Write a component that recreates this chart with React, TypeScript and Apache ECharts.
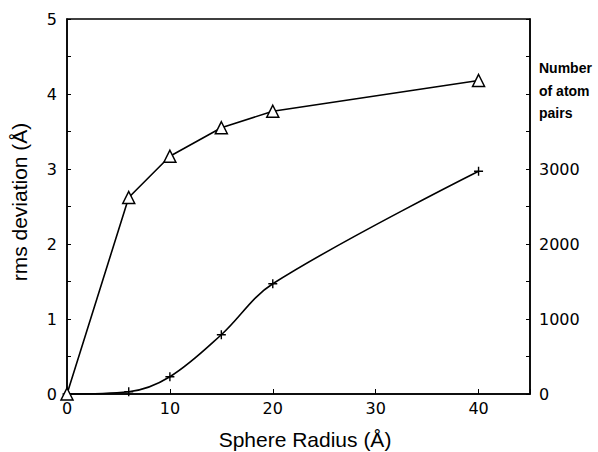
import React, { useEffect, useRef } from "react";
import * as echarts from "echarts";

const radius = [0, 6, 10, 15, 20, 40];
const rmsDeviation = [0, 2.62, 3.17, 3.55, 3.77, 4.18];
const atomPairs = [0, 30, 230, 790, 1470, 2970];
const leftTickLabels = [0, 1, 2, 3, 4, 5];
const rightTickLabels = [0, 1000, 2000, 3000];
const xTickLabels = [0, 10, 20, 30, 40];
const rightNote = ["Number", "of atom", "pairs"];

export default function App() {
  const ref = useRef<HTMLDivElement>(null);
  useEffect(() => {
    document.body.style.margin = "0";
    const chart = echarts.init(ref.current!, null, { renderer: "svg" });
    const numFont = { fontFamily: "DejaVu Sans", fontSize: 16, color: "#000" };
    chart.setOption({
      animation: false,
      backgroundColor: "#fff",
      grid: {
        left: 67,
        right: 68,
        top: 19,
        bottom: 58,
        show: true,
        borderColor: "#000",
        borderWidth: 1.5,
        backgroundColor: "transparent",
      },
      xAxis: {
        type: "value",
        min: 0,
        max: 45,
        interval: 10,
        axisLine: { show: true, lineStyle: { color: "#000", width: 1.5 } },
        axisTick: { show: true, inside: true, length: 5, lineStyle: { color: "#000" } },
        splitLine: { show: false },
        axisLabel: {
          ...numFont,
          margin: 6,
          formatter: (v: number) => (xTickLabels.includes(v) ? String(v) : ""),
        },
      },
      yAxis: [
        {
          type: "value",
          min: 0,
          max: 5,
          interval: 0.5,
          axisLine: { show: true, lineStyle: { color: "#000", width: 1.5 } },
          axisTick: { show: true, inside: true, length: 4, lineStyle: { color: "#000" } },
          splitLine: { show: false },
          axisLabel: {
            ...numFont,
            margin: 10,
            formatter: (v: number) => (leftTickLabels.includes(v) ? String(v) : ""),
          },
        },
        {
          type: "value",
          min: 0,
          max: 5000,
          interval: 500,
          position: "right",
          axisLine: { show: true, lineStyle: { color: "#000", width: 1.5 } },
          axisTick: { show: true, inside: true, length: 4, lineStyle: { color: "#000" } },
          splitLine: { show: false },
          axisLabel: {
            ...numFont,
            margin: 9,
            formatter: (v: number) => (rightTickLabels.includes(v) ? String(v) : ""),
          },
        },
      ],
      graphic: [
        {
          type: "text",
          x: 19,
          y: 202,
          rotation: Math.PI / 2,
          style: {
            text: "rms deviation (Å)",
            fontFamily: "Liberation Sans",
            fontSize: 21,
            fill: "#000",
            textAlign: "center",
            textVerticalAlign: "middle",
          },
        },
        {
          type: "text",
          x: 305,
          y: 439,
          style: {
            text: "Sphere Radius (Å)",
            fontFamily: "Liberation Sans",
            fontSize: 21,
            fill: "#000",
            textAlign: "center",
            textVerticalAlign: "middle",
          },
        },
        ...rightNote.map((t, i) => ({
          type: "text",
          x: 539,
          y: 68 + i * 22.5,
          style: {
            text: t,
            fontFamily: "Liberation Sans",
            fontSize: 14,
            fontWeight: "bold",
            fill: "#000",
            textAlign: "left",
            textVerticalAlign: "middle",
          },
        })),
      ],
      series: [
        {
          type: "line",
          yAxisIndex: 0,
          data: radius.map((r, i) => [r, rmsDeviation[i]]),
          symbol: "triangle",
          symbolSize: 12,
          lineStyle: { color: "#000", width: 1.6 },
          itemStyle: { color: "#fff", borderColor: "#000", borderWidth: 1.5 },
          z: 3,
        },
        {
          type: "line",
          yAxisIndex: 1,
          data: radius.map((r, i) => [r, atomPairs[i]]),
          smooth: 0.35,
          symbol: "path://M5,0V10M0,5H10",
          symbolSize: 9,
          lineStyle: { color: "#000", width: 1.6 },
          itemStyle: { color: "none", borderColor: "#000", borderWidth: 1.4 },
          z: 2,
        },
      ],
    });
    return () => chart.dispose();
  }, []);
  return <div ref={ref} style={{ width: 598, height: 452 }} />;
}
